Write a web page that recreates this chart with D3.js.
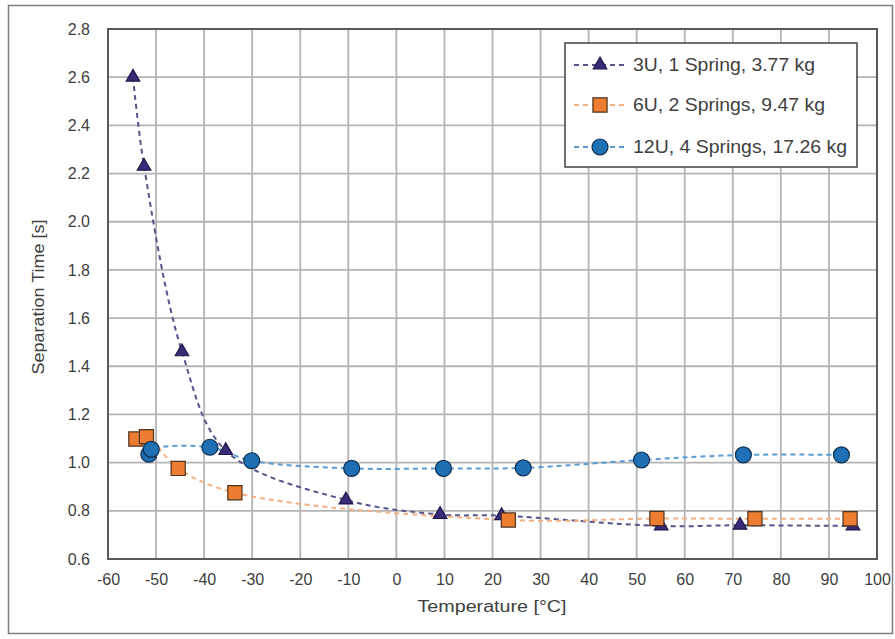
<!DOCTYPE html>
<html><head><meta charset="utf-8">
<script src="https://cdn.jsdelivr.net/npm/d3@7"></script>
<style>body{margin:0;background:#fff;} text{font-family:"Liberation Sans",Arial,sans-serif;fill:#404040;}</style>
</head><body>
<svg id="c" width="895" height="639"></svg>
<script>
const seriesNames = ["3U, 1 Spring, 3.77 kg", "6U, 2 Springs, 9.47 kg", "12U, 4 Springs, 17.26 kg"];
const temp3U = [-54.8, -52.5, -44.6, -35.5, -10.5, 9.1, 21.9, 55.1, 71.5, 95.0];
const time3U = [2.60, 2.23, 1.46, 1.05, 0.845, 0.785, 0.78, 0.737, 0.74, 0.737];
const temp6U = [-54.2, -52.0, -45.4, -33.6, 23.3, 54.2, 74.6, 94.4];
const time6U = [1.098, 1.108, 0.976, 0.875, 0.762, 0.768, 0.767, 0.767];
const temp12U = [-51.5, -51.0, -38.8, -30.1, -9.3, 9.8, 26.4, 51.0, 72.2, 92.6];
const time12U = [1.035, 1.055, 1.064, 1.008, 0.976, 0.976, 0.978, 1.011, 1.032, 1.032];
const xTicks = [-60,-50,-40,-30,-20,-10,0,10,20,30,40,50,60,70,80,90,100];
const yTicks = [0.6,0.8,1.0,1.2,1.4,1.6,1.8,2.0,2.2,2.4,2.6,2.8];
const xTitle = "Temperature [°C]";
const yTitle = "Separation Time [s]";

const svg = d3.select("#c");
const L = 108, R = 877, T = 29, B = 559;
const x = d3.scaleLinear().domain([-60,100]).range([L,R]);
const y = d3.scaleLinear().domain([0.6,2.8]).range([B,T]);

// outer frame
svg.append("rect").attr("x",8.5).attr("y",5.5).attr("width",884).attr("height",628)
  .attr("fill","none").attr("stroke","#7f7f7f").attr("stroke-width",1.5);

// grid
const g = svg.append("g");
g.selectAll(".vx").data(xTicks).join("line").attr("x1",d=>x(d)).attr("x2",d=>x(d))
  .attr("y1",T).attr("y2",B).attr("stroke","#b4b4b4").attr("stroke-width",1.8);
g.selectAll(".hy").data(yTicks).join("line").attr("y1",d=>y(d)).attr("y2",d=>y(d))
  .attr("x1",L).attr("x2",R).attr("stroke","#b4b4b4").attr("stroke-width",1.8);

// axes
const xAxis = d3.axisBottom(x).tickValues(xTicks).tickSize(0).tickPadding(15).tickFormat(d3.format("d"));
const yAxis = d3.axisLeft(y).tickValues(yTicks).tickSize(0).tickPadding(18).tickFormat(d3.format(".1f"));
const gx = svg.append("g").attr("transform",`translate(0,${B})`).call(xAxis);
const gy = svg.append("g").attr("transform",`translate(${L},0)`).call(yAxis);
[gx,gy].forEach(a=>{a.select(".domain").remove(); a.selectAll("text").attr("font-size",16).attr("fill","#404040").style("font-family","Liberation Sans, Arial, sans-serif");});
gx.selectAll("text").text(d=>String(d).replace("−","-"));

// plot border
svg.append("rect").attr("x",L).attr("y",T).attr("width",R-L).attr("height",B-T)
  .attr("fill","none").attr("stroke","#595959").attr("stroke-width",2);

// titles
svg.append("text").attr("x",492).attr("y",612).attr("text-anchor","middle").attr("font-size",16)
  .attr("textLength",149).attr("lengthAdjust","spacingAndGlyphs").text(xTitle);
svg.append("text").attr("transform",`translate(44,${297}) rotate(-90)`).attr("text-anchor","middle").attr("font-size",16)
  .attr("textLength",155).attr("lengthAdjust","spacingAndGlyphs").text(yTitle);

const series = [
  {name:seriesNames[0], xs:temp3U, ys:time3U, line:"#55558a", fill:"#3b2a78", stroke:"#20184a", shape:d3.symbolTriangle, size:80},
  {name:seriesNames[1], xs:temp6U, ys:time6U, line:"#f4b183", fill:"#ed7d31", stroke:"#4d3320", shape:d3.symbolSquare, size:200},
  {name:seriesNames[2], xs:temp12U, ys:time12U, line:"#5b9bd5", fill:"#1f6fb5", stroke:"#10304f", shape:d3.symbolCircle, size:200}
];
const lineGen = d3.line().x(d=>x(d[0])).y(d=>y(d[1])).curve(d3.curveCatmullRom.alpha(0.5));
series.forEach(s=>{
  const pts = s.xs.map((v,i)=>[v,s.ys[i]]);
  svg.append("path").attr("d",lineGen(pts)).attr("fill","none").attr("stroke",s.line)
    .attr("stroke-width",2).attr("stroke-dasharray","5,4");
});
series.forEach(s=>{
  const pts = s.xs.map((v,i)=>[v,s.ys[i]]);
  svg.append("g").selectAll("path").data(pts).join("path")
    .attr("d",d3.symbol().type(s.shape).size(s.size))
    .attr("transform",d=>`translate(${x(d[0])},${y(d[1])})`)
    .attr("fill",s.fill).attr("stroke",s.stroke).attr("stroke-width",1.2);
});

// legend
const lg = svg.append("g");
lg.append("rect").attr("x",565).attr("y",43).attr("width",292).attr("height",124)
  .attr("fill","#fff").attr("stroke","#404040").attr("stroke-width",1.5);
const rowsY = [65,105,147];
const rowW = [182,192,214];
series.forEach((s,i)=>{
  lg.append("line").attr("x1",574).attr("x2",627).attr("y1",rowsY[i]).attr("y2",rowsY[i])
    .attr("stroke",s.line).attr("stroke-width",2).attr("stroke-dasharray","5,4");
  lg.append("path").attr("d",d3.symbol().type(s.shape).size(s.size)).attr("transform",`translate(600,${rowsY[i]})`)
    .attr("fill",s.fill).attr("stroke",s.stroke).attr("stroke-width",1.2);
  lg.append("text").attr("x",633).attr("y",rowsY[i]+6).attr("font-size",17.5)
    .attr("textLength",rowW[i]).attr("lengthAdjust","spacingAndGlyphs").text(s.name);
});
</script>
</body></html>
